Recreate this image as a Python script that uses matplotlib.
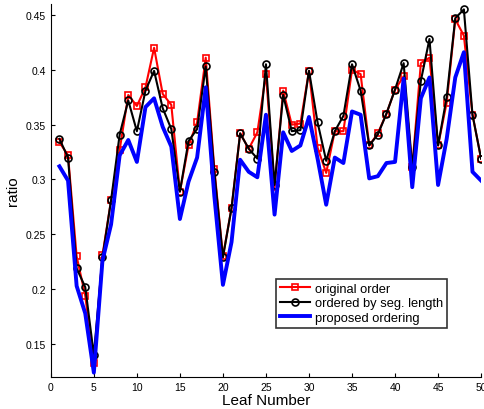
import matplotlib
matplotlib.use("Agg")
import matplotlib.pyplot as plt

plt.rcParams['font.family'] = ['Liberation Sans', 'DejaVu Sans']

# leaf index 1..50
leaf = list(range(1, 51))

original_order = [
    0.334, 0.322, 0.230, 0.194, 0.133, 0.231, 0.281, 0.327, 0.377, 0.367,
    0.384, 0.420, 0.378, 0.368, 0.289, 0.331, 0.352, 0.411, 0.310, 0.230,
    0.274, 0.342, 0.328, 0.343, 0.396, 0.293, 0.381, 0.350, 0.351, 0.399,
    0.329, 0.306, 0.344, 0.344, 0.400, 0.396, 0.331, 0.342, 0.360, 0.382,
    0.394, 0.311, 0.406, 0.411, 0.331, 0.370, 0.446, 0.431, 0.359, 0.319,
]

seg_length_order = [
    0.337, 0.320, 0.219, 0.202, 0.140, 0.229, 0.281, 0.341, 0.372, 0.344,
    0.381, 0.399, 0.365, 0.346, 0.289, 0.335, 0.346, 0.403, 0.307, 0.229,
    0.274, 0.342, 0.328, 0.319, 0.405, 0.295, 0.377, 0.344, 0.345, 0.399,
    0.352, 0.317, 0.344, 0.358, 0.405, 0.381, 0.331, 0.341, 0.360, 0.382,
    0.406, 0.311, 0.390, 0.428, 0.331, 0.375, 0.447, 0.455, 0.359, 0.319,
]

proposed_order = [
    0.312, 0.299, 0.203, 0.178, 0.124, 0.226, 0.259, 0.322, 0.336, 0.316,
    0.366, 0.374, 0.348, 0.330, 0.264, 0.298, 0.320, 0.384, 0.285, 0.204,
    0.243, 0.318, 0.307, 0.302, 0.359, 0.268, 0.343, 0.326, 0.331, 0.357,
    0.319, 0.277, 0.320, 0.315, 0.362, 0.359, 0.301, 0.303, 0.315, 0.316,
    0.392, 0.293, 0.374, 0.393, 0.295, 0.337, 0.393, 0.416, 0.307, 0.299,
]

fig = plt.figure(figsize=(4.84, 4.10), dpi=100)
ax = fig.add_axes([0.105, 0.078, 0.889, 0.910])

ax.plot(leaf, original_order, '-s', color='red', lw=1.5, ms=4.5,
        mfc='none', mec='red', mew=1.2, label='original order')
ax.plot(leaf, seg_length_order, '-o', color='black', lw=1.5, ms=5,
        mfc='none', mec='black', mew=1.2, label='ordered by seg. length')
ax.plot(leaf, proposed_order, '-', color='blue', lw=2.8,
        label='proposed ordering')

ax.set_xlim(0, 50)
ax.set_ylim(0.12, 0.46)
ax.set_xticks(range(0, 51, 5))
ax.set_yticks([0.15, 0.2, 0.25, 0.3, 0.35, 0.4, 0.45])
ax.set_yticklabels(['0.15', '0.2', '0.25', '0.3', '0.35', '0.4', '0.45'])
ax.tick_params(direction='in', length=3, labelsize=7.5, width=0.8)
ax.spines['top'].set_visible(False)
ax.spines['right'].set_visible(False)

ax.set_xlabel('Leaf Number', fontsize=11, labelpad=1)
ax.set_ylabel('ratio', fontsize=11, labelpad=4)

leg = ax.legend(loc='lower left', bbox_to_anchor=(0.524, 0.132),
                fontsize=9.3, frameon=True, fancybox=False,
                borderpad=0.3, labelspacing=0.2, handlelength=2.3,
                handletextpad=0.4, borderaxespad=0)
leg.get_frame().set_edgecolor('black')
leg.get_frame().set_linewidth(1.2)

fig.savefig('out.png', dpi=100)
